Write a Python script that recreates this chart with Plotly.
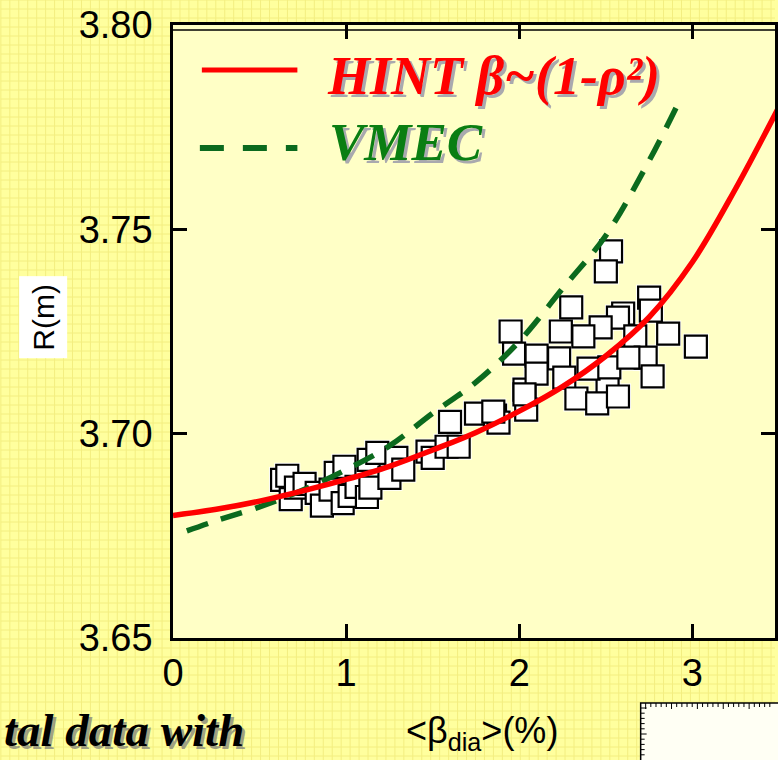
import plotly.graph_objects as go

# HINT equilibrium, beta ~ (1 - rho^2): magnetic axis position vs <beta_dia>
beta_hint = [0.0, 0.25, 0.5, 0.75, 1.0, 1.25, 1.5, 1.75, 2.0, 2.25, 2.5, 2.75, 3.0, 3.25, 3.5]
r_hint = [3.680, 3.6815, 3.6835, 3.686, 3.6888, 3.6920, 3.6960, 3.7003, 3.7055,
          3.7115, 3.7190, 3.7285, 3.7420, 3.7600, 3.7800]

# VMEC equilibrium
beta_vmec = [0.08, 0.25, 0.5, 0.75, 1.0, 1.25, 1.5, 1.75, 2.0, 2.25, 2.5, 2.75, 2.92]
r_vmec = [3.6762, 3.6787, 3.6821, 3.6862, 3.6912, 3.6970, 3.7050, 3.7126, 3.7226,
          3.7355, 3.7485, 3.7668, 3.7810]

# Measured axis positions
beta_exp = [0.63, 0.66, 0.68, 0.71, 0.76, 0.83, 0.86, 0.94, 0.99, 0.91, 0.98, 1.02,
            1.06, 1.12, 1.13, 1.18, 1.29, 1.14, 1.25, 1.33, 1.47, 1.50, 1.58, 1.65,
            1.60, 1.75, 1.86, 1.88, 2.03, 2.04, 1.85,
            2.53, 2.50, 2.30, 1.95, 2.24, 2.75, 2.76, 2.60, 2.57, 2.47, 2.37, 2.67,
            3.02, 1.97, 2.10, 2.23, 2.86, 2.73, 2.10, 2.26, 2.51, 2.77, 2.03, 2.33,
            2.45, 2.57, 2.40, 2.52, 2.63]
r_exp = [3.6887, 3.6897, 3.6840, 3.6868, 3.6877, 3.6855, 3.6824, 3.6904, 3.6919,
         3.6863, 3.6830, 3.6848, 3.6870, 3.6845, 3.6936, 3.6953, 3.6941, 3.6868,
         3.6892, 3.6912, 3.6956, 3.6941, 3.6968, 3.6968, 3.7029, 3.7049, 3.7044,
         3.7027, 3.7108, 3.7059, 3.7054,
         3.7446, 3.7397, 3.7309, 3.7250, 3.7250, 3.7333, 3.7301, 3.7294, 3.7284,
         3.7260, 3.7238, 3.7238, 3.7213, 3.7196, 3.7191, 3.7184, 3.7245, 3.7186,
         3.7147, 3.7137, 3.7123, 3.7140, 3.7096, 3.7086, 3.7074, 3.7091, 3.7159,
         3.7162, 3.7186]

x_ticks = [0, 1, 2, 3]
x_labels = ["0", "1", "2", "3"]
y_ticks = [3.65, 3.70, 3.75, 3.80]
y_labels = ["3.65", "3.70", "3.75", "3.80"]

W, H = 778, 760
L, R_, T, B = 173, 0, 25, 122
PW, PH = W - L - R_, H - T - B


def px(xp):
    return (xp - L) / PW


def py(yp):
    return (H - B - yp) / PH


fig = go.Figure()

# white halo behind the squares
fig.add_trace(go.Scatter(
    x=beta_exp, y=r_exp, mode="markers", hoverinfo="skip", showlegend=False,
    marker=dict(symbol="square", size=26, color="white", line=dict(width=0)),
))
fig.add_trace(go.Scatter(
    x=beta_exp, y=r_exp, mode="markers", name="Experiment", showlegend=False,
    marker=dict(symbol="square", size=22, color="white",
                line=dict(color="black", width=2.2)),
))
fig.add_trace(go.Scatter(
    x=beta_vmec, y=r_vmec, mode="lines", name="VMEC", showlegend=False,
    line=dict(color="#0B6A1E", width=5.5, dash="22px,14px", shape="spline"),
))
fig.add_trace(go.Scatter(
    x=beta_hint, y=r_hint, mode="lines", name="HINT", showlegend=False,
    line=dict(color="#FF0000", width=5.5, shape="spline"),
))

# slide background grid outside the plot frame
step = 9
segs = []
gx = 0
while gx <= W:
    if gx < L:
        segs.append(f"M{px(gx)},{py(0)}L{px(gx)},{py(H)}")
    else:
        segs.append(f"M{px(gx)},{py(0)}L{px(gx)},{py(T)}")
        segs.append(f"M{px(gx)},{py(H - B)}L{px(gx)},{py(H)}")
    gx += step
gy = 0
while gy <= H:
    if T <= gy <= H - B:
        segs.append(f"M{px(0)},{py(gy)}L{px(L)},{py(gy)}")
    else:
        segs.append(f"M{px(0)},{py(gy)}L{px(W)},{py(gy)}")
    gy += step

shapes = [
    dict(type="path", xref="paper", yref="paper", path="".join(segs),
         line=dict(color="#F3EE80", width=1), layer="below"),
    # second rule under the top frame line
    dict(type="line", xref="paper", yref="paper", x0=0, x1=1,
         y0=py(T + 5), y1=py(T + 5), line=dict(color="black", width=1.5)),
    # legend line samples
    dict(type="line", xref="paper", yref="paper", x0=px(202), x1=px(298),
         y0=py(70), y1=py(70), line=dict(color="#FF0000", width=5)),
    dict(type="line", xref="paper", yref="paper", x0=px(200), x1=px(298),
         y0=py(148), y1=py(148),
         line=dict(color="#0B6A1E", width=6, dash="24px,19px")),
    # neighbouring panel frame, lower right
    dict(type="rect", xref="paper", yref="paper", x0=px(643), x1=px(W + 10),
         y0=py(H + 10), y1=py(703), fillcolor="#FFFFF4",
         line=dict(color="black", width=1.5)),
]
tick_path = []
tx = 648
k = 0
while tx < W:
    ln = 6 if k % 5 == 0 else 4
    tick_path.append(f"M{px(tx)},{py(703)}L{px(tx)},{py(703 + ln)}")
    tx += 5.2
    k += 1
tyy = 708
k = 0
while tyy < H:
    ln = 6 if k % 5 == 0 else 4
    tick_path.append(f"M{px(643)},{py(tyy)}L{px(643 + ln)},{py(tyy)}")
    tyy += 5.2
    k += 1
shapes.append(dict(type="path", xref="paper", yref="paper", path="".join(tick_path),
                   line=dict(color="black", width=1)))

serif = "Liberation Serif"
sans = "Liberation Sans"
annotations = []


def shadow_text(text, x, y, size, color, anchor="left", shadow="rgba(140,140,165,0.75)"):
    common = dict(xref="paper", yref="paper", x=px(x), y=py(y), showarrow=False,
                  xanchor=anchor, yanchor="middle")
    annotations.append(dict(text=f"<b><i>{text}</i></b>", xshift=3, yshift=-3,
                            font=dict(family=serif, size=size, color=shadow), **common))
    annotations.append(dict(text=f"<b><i>{text}</i></b>",
                            font=dict(family=serif, size=size, color=color), **common))


shadow_text("HINT β~(1-ρ²)", 326, 76, 54, "#FF0000")
shadow_text("VMEC", 328, 142, 53, "#0A7E12")
shadow_text("tal data with", 246, 730, 47, "black", anchor="right",
            shadow="rgba(120,120,120,0.7)")

annotations.append(dict(
    text="R(m)", xref="paper", yref="paper", x=px(42), y=py(317), showarrow=False,
    textangle=-90, font=dict(family=sans, size=30, color="black"),
    bgcolor="white", borderpad=7, xanchor="center", yanchor="middle"))
annotations.append(dict(
    text="<β<sub>dia</sub>>(%)", xref="paper", yref="paper", x=px(484), y=py(733),
    showarrow=False, font=dict(family=sans, size=36, color="black"),
    xanchor="center", yanchor="middle"))

axis_common = dict(showgrid=False, zeroline=False, showline=True, linecolor="black",
                   linewidth=2.5, ticks="inside", ticklen=14, tickwidth=2.5,
                   tickcolor="black", mirror="ticks",
                   tickfont=dict(family=sans, size=38, color="black"))

fig.update_layout(
    width=W, height=H,
    margin=dict(l=L, r=R_, t=T, b=B, pad=0),
    paper_bgcolor="#FFFF9E",
    plot_bgcolor="#FFFFC6",
    showlegend=False,
    xaxis=dict(range=[0, PW / 174.0], tickvals=x_ticks, ticktext=x_labels,
               ticklabelstandoff=0, **axis_common),
    yaxis=dict(range=[3.65, 3.80], tickvals=y_ticks, ticktext=y_labels,
               ticklabelstandoff=10, **axis_common),
    shapes=shapes,
    annotations=annotations,
)

fig.write_html("out.html")
